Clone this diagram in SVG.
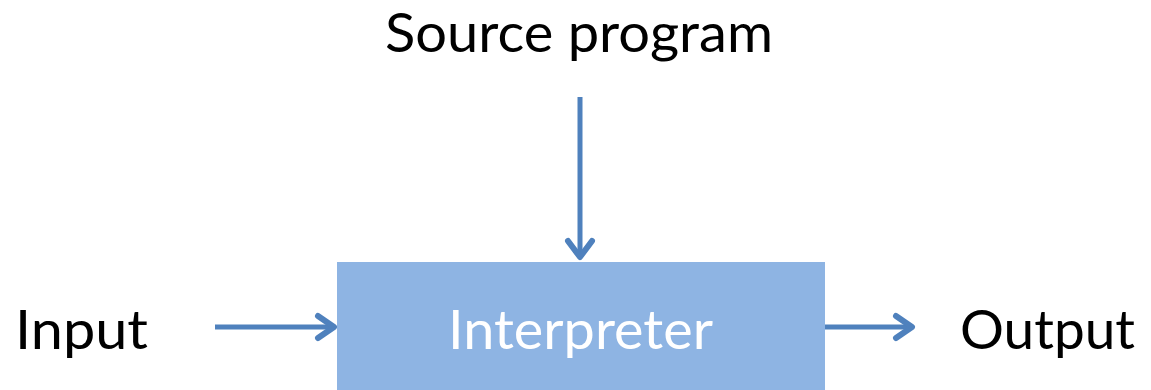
<svg xmlns="http://www.w3.org/2000/svg" width="1151" height="390" viewBox="0 0 1151 390">
  <style>
    .lbl { font-family: Lato, "Open Sans", "Liberation Sans", sans-serif; font-size: 55px; fill: #000; }
    .box-lbl { font-family: Lato, "Open Sans", "Liberation Sans", sans-serif; font-size: 55px; fill: #fff; }
    .conn { stroke: #4F81BD; stroke-width: 5; fill: none; }
    .head { stroke: #4F81BD; stroke-width: 6; fill: none; stroke-linecap: round; stroke-linejoin: round; }
  </style>
  <rect width="1151" height="390" fill="#fff"/>

  <g id="source-program">
    <text class="lbl" x="385" y="52" textLength="388" lengthAdjust="spacingAndGlyphs">Source program</text>
  </g>

  <g id="interpreter">
    <rect x="337" y="262" width="488" height="128" fill="#8EB4E3"/>
    <text class="box-lbl" x="448" y="349" textLength="265" lengthAdjust="spacingAndGlyphs">Interpreter</text>
  </g>

  <g id="input">
    <text class="lbl" x="15" y="349" textLength="133" lengthAdjust="spacingAndGlyphs">Input</text>
  </g>

  <g id="output">
    <text class="lbl" x="960" y="349" textLength="175" lengthAdjust="spacingAndGlyphs">Output</text>
  </g>

  <g id="connectors">
    <!-- source program -> interpreter -->
    <line class="conn" x1="580" y1="97" x2="580" y2="257"/>
    <polyline class="head" points="568,241 580,257 592,241"/>
    <!-- input -> interpreter -->
    <line class="conn" x1="215" y1="327" x2="334" y2="327"/>
    <polyline class="head" points="318,316 334,327 318,338"/>
    <!-- interpreter -> output -->
    <line class="conn" x1="825" y1="327" x2="912" y2="327"/>
    <polyline class="head" points="896,316 912,327 896,338"/>
  </g>
</svg>
